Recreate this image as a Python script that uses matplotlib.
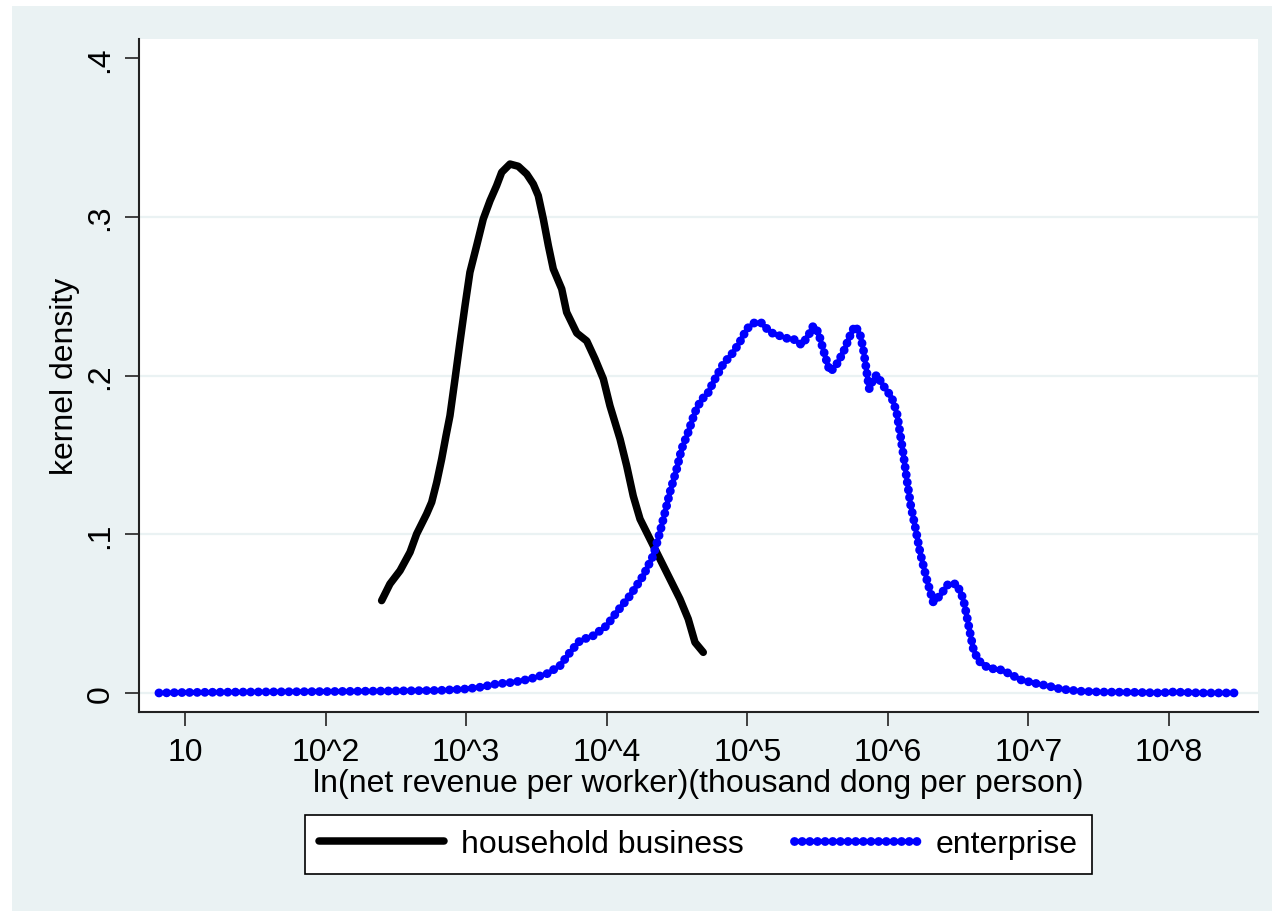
import matplotlib
matplotlib.use("Agg")
import matplotlib.pyplot as plt
from matplotlib.patches import Rectangle

plt.rcParams['font.family'] = ['Liberation Sans', 'DejaVu Sans']

# log10 of net revenue per worker and the kernel density at that point
hh_logx = [2.399, 2.458, 2.530, 2.601, 2.648, 2.719, 2.755, 2.791, 2.826, 2.857,
           2.885, 2.921, 2.956, 2.992, 3.027, 3.075, 3.122, 3.170, 3.217, 3.253,
           3.312, 3.371, 3.431, 3.478, 3.513, 3.549, 3.585, 3.620, 3.680, 3.715,
           3.787, 3.858, 3.917, 3.976, 4.023, 4.095, 4.142, 4.189, 4.237, 4.308,
           4.379, 4.450, 4.521, 4.580, 4.628, 4.687]
hh_dens = [0.0582, 0.0687, 0.0771, 0.0887, 0.1002, 0.1128, 0.1202, 0.1328, 0.1474, 0.1621,
           0.1747, 0.1979, 0.2210, 0.2440, 0.2651, 0.2819, 0.2987, 0.3102, 0.3197, 0.3281,
           0.3333, 0.3319, 0.3270, 0.3207, 0.3134, 0.2987, 0.2819, 0.2672, 0.2546, 0.2399,
           0.2268, 0.2218, 0.2105, 0.1979, 0.1810, 0.1600, 0.1432, 0.1241, 0.1096, 0.0970,
           0.0844, 0.0718, 0.0592, 0.0466, 0.0319, 0.0256]

ent_logx = [0.815, 1.000, 1.462, 2.032, 2.530, 2.814, 2.999, 3.099, 3.217, 3.336,
            3.454, 3.573, 3.668, 3.739, 3.810, 3.905, 4.000, 4.071, 4.166, 4.260,
            4.331, 4.379, 4.415, 4.450, 4.498, 4.533, 4.580, 4.628, 4.676, 4.711,
            4.758, 4.829, 4.901, 4.960, 4.996, 5.055, 5.103, 5.162, 5.280, 5.327,
            5.387, 5.434, 5.470, 5.505, 5.553, 5.588, 5.624, 5.683, 5.731, 5.766,
            5.802, 5.825, 5.850, 5.868, 5.897, 5.921, 5.968, 6.027, 6.063, 6.086,
            6.115, 6.138, 6.163, 6.193, 6.229, 6.276, 6.323, 6.371, 6.430, 6.490,
            6.537, 6.561, 6.584, 6.608, 6.644, 6.715, 6.798, 6.869, 6.940, 7.035,
            7.130, 7.225, 7.367, 7.509, 7.746, 7.936, 8.031, 8.221, 8.482]
ent_dens = [0.0000, 0.0003, 0.0006, 0.0009, 0.0013, 0.0016, 0.0025, 0.0036, 0.0057, 0.0067,
            0.0088, 0.0120, 0.0172, 0.0256, 0.0330, 0.0361, 0.0424, 0.0509, 0.0613, 0.0739,
            0.0865, 0.1013, 0.1139, 0.1265, 0.1411, 0.1537, 0.1643, 0.1769, 0.1853, 0.1873,
            0.1958, 0.2073, 0.2147, 0.2231, 0.2294, 0.2336, 0.2331, 0.2273, 0.2235, 0.2231,
            0.2193, 0.2251, 0.2314, 0.2273, 0.2125, 0.2025, 0.2052, 0.2147, 0.2251, 0.2314,
            0.2262, 0.2168, 0.2021, 0.1916, 0.1979, 0.2004, 0.1936, 0.1863, 0.1769, 0.1643,
            0.1474, 0.1328, 0.1180, 0.1054, 0.0887, 0.0718, 0.0572, 0.0613, 0.0687, 0.0687,
            0.0592, 0.0487, 0.0382, 0.0277, 0.0204, 0.0156, 0.0147, 0.0120, 0.0084, 0.0063,
            0.0046, 0.0025, 0.0011, 0.0006, 0.0004, 0.0000, 0.0006, 0.0000, 0.0000]

x_ticks = [1, 2, 3, 4, 5, 6, 7, 8]
x_ticklabels = ['10', '10^2', '10^3', '10^4', '10^5', '10^6', '10^7', '10^8']
y_ticks = [0, 0.1, 0.2, 0.3, 0.4]
y_ticklabels = ['0', '.1', '.2', '.3', '.4']

BG = '#EAF2F3'
W, H = 1272, 912

fig = plt.figure(figsize=(W / 100, H / 100), dpi=100, facecolor='white')
fig.patches.append(Rectangle((12 / W, -0.01), 1 - 12 / W + 0.01, 1.01 - 7 / H,
                             transform=fig.transFigure, facecolor=BG,
                             edgecolor='none', zorder=-5))

ax = fig.add_axes([139 / W, 1 - 713 / H, (1258 - 139) / W, (713 - 40) / H])
ax.set_zorder(2)
ax.set_facecolor('white')

for yv in y_ticks[:-1]:
    ax.axhline(yv, color=BG, lw=1.6, zorder=1)

ax.plot(hh_logx, hh_dens, color='black', lw=5.4, solid_capstyle='round',
        solid_joinstyle='round', label='household business', zorder=3)
# dense round dots, like a thick dotted Stata line
ax.plot(ent_logx, ent_dens, color='#0000FF', lw=6.4, dashes=(0.01, 0.85),
        dash_capstyle='round', label='enterprise', zorder=4)

ax.set_xlim(0.673, 8.633)
ax.set_ylim(-0.012, 0.4121)

for side in ['top', 'right']:
    ax.spines[side].set_visible(False)
for side in ['left', 'bottom']:
    ax.spines[side].set_color('#222222')
    ax.spines[side].set_linewidth(1.5)

ax.set_xticks(x_ticks)
ax.set_xticklabels(x_ticklabels)
ax.set_yticks(y_ticks)
ax.set_yticklabels(y_ticklabels, rotation=90, va='center')
ax.tick_params(axis='both', length=10, width=1.2, color='#222222',
               labelsize=23, labelcolor='black')
ax.tick_params(axis='x', pad=8)
ax.tick_params(axis='y', pad=7)

ax.set_xlabel('ln(net revenue per worker)(thousand dong per person)', fontsize=23)
ax.xaxis.set_label_coords(0.5, -0.083)
ax.set_ylabel('kernel density', fontsize=23)
ax.yaxis.set_label_coords(-0.0527, 0.5)

leg = fig.legend(loc='center', bbox_to_anchor=(698.5 / W, 1 - 845.5 / H),
                 ncol=2, fontsize=23, frameon=True, fancybox=False,
                 edgecolor='black', facecolor='white', framealpha=1,
                 handlelength=3.9, handletextpad=0.55, columnspacing=1.55,
                 borderpad=0.45)
leg.get_frame().set_linewidth(1.2)

fig.savefig('out.png', dpi=100, facecolor=fig.get_facecolor())
